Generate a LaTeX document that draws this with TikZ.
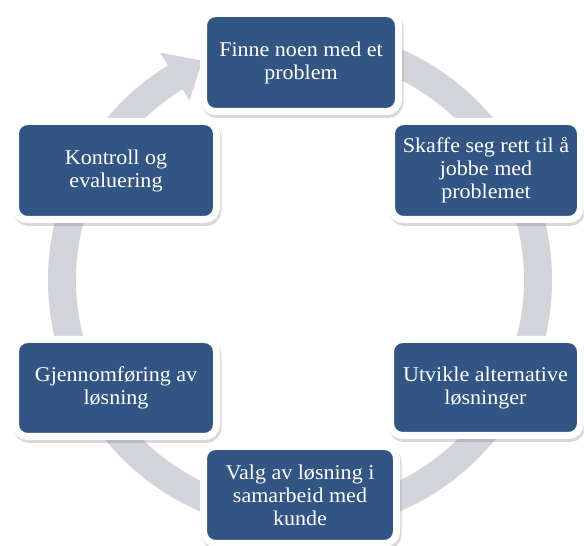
\documentclass[tikz,border=0pt]{standalone}
\usepackage{fontspec}
\setmainfont[FakeStretch=1.05]{Liberation Serif}
\usetikzlibrary{shadows}
\definecolor{boxblue}{RGB}{51,85,131}
\definecolor{ringgray}{RGB}{211,212,218}
\tikzset{
  stepbox/.style={rectangle, rounded corners=12pt, fill=boxblue, draw=white,
    line width=7pt, text=white, align=center, inner sep=0pt,
    font=\fontsize{21}{23}\selectfont,
    general shadow={fill=black!50, draw=black!50, line width=7pt,
      shadow xshift=1.5pt, shadow yshift=-3pt, opacity=0.3}},
  ring/.style={fill=ringgray},
}
\begin{document}
\begin{tikzpicture}[x=1pt,y=1pt]
  \useasboundingbox (0,0) rectangle (584,546);
  \coordinate (c) at (300,266);

  % circular arrow running clockwise behind the steps
  \fill[ring] ([shift={(90:252)}]c)
    arc[start angle=90, end angle=-238.4, radius=252]
    -- ([shift={(121.6:267)}]c)
    -- ([shift={(114:240)}]c)
    -- ([shift={(121.6:211)}]c)
    -- ([shift={(121.6:224)}]c)
    arc[start angle=-238.4, end angle=90, radius=224]
    -- cycle;

  % the six steps of the cycle
  \node[stepbox, minimum width=195, minimum height=98] (s1) at (301,483.5)
    {Finne noen med et\\problem};
  \node[stepbox, minimum width=189, minimum height=98] (s2) at (486,375.5)
    {Skaffe seg rett til å\\jobbe med\\problemet};
  \node[stepbox, minimum width=190, minimum height=96] (s3) at (485.5,158.5)
    {Utvikle alternative\\løsninger};
  \node[stepbox, minimum width=193, minimum height=97] (s4) at (300,51)
    {Valg av løsning i\\samarbeid med\\kunde};
  \node[stepbox, minimum width=201, minimum height=97] (s5) at (116,158)
    {Gjennomføring av\\løsning};
  \node[stepbox, minimum width=201, minimum height=98] (s6) at (116,375.5)
    {Kontroll og\\evaluering};
\end{tikzpicture}
\end{document}
